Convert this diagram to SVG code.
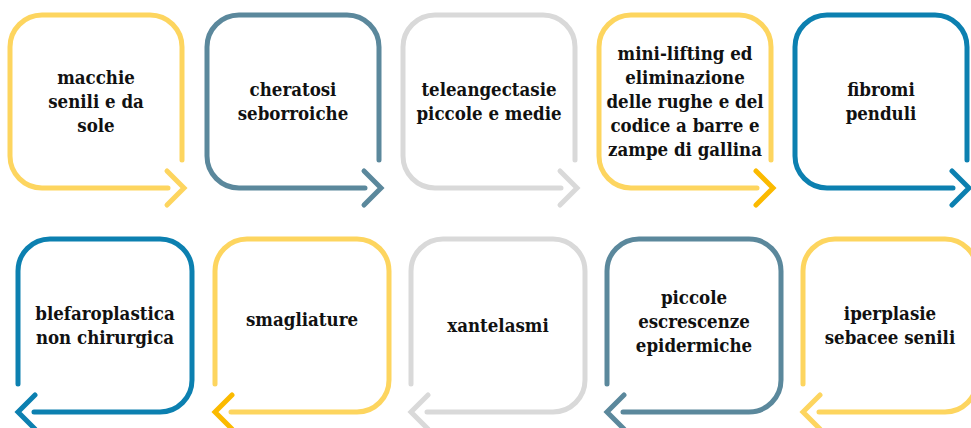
<svg xmlns="http://www.w3.org/2000/svg" width="971" height="428" viewBox="0 0 971 428">
<style>
.box{fill:none;stroke-width:5;stroke-linecap:round;stroke-linejoin:round}
.chev{fill:none;stroke-width:5;stroke-linecap:round;stroke-linejoin:miter}
.y{stroke:#FDD55F}.yd{stroke:#FBBA00}.s{stroke:#5B889C}.g{stroke:#D9D9D9}.b{stroke:#0C80B0}
text{font-family:"DejaVu Serif Condensed","DejaVu Serif",serif;font-stretch:condensed;font-weight:bold;font-size:18.5px;fill:#111;text-anchor:middle}
</style>
<rect width="971" height="428" fill="#fff"/>
<g id="n1">
<path class="box y" d="M182,160 V47 A32 32 0 0 0 150,15 H42 A32 32 0 0 0 10,47 V156 A32 32 0 0 0 42,188 H168"/>
<text x="96" y="84">macchie</text><text x="96" y="108">senili e da</text><text x="96" y="132">sole</text>
</g>
<g id="n2">
<path class="box s" d="M379,160 V47 A32 32 0 0 0 347,15 H239 A32 32 0 0 0 207,47 V156 A32 32 0 0 0 239,188 H365"/>
<text x="293" y="96">cheratosi</text><text x="293" y="120">seborroiche</text>
</g>
<g id="n3">
<path class="box g" d="M575,160 V47 A32 32 0 0 0 543,15 H435 A32 32 0 0 0 403,47 V156 A32 32 0 0 0 435,188 H561"/>
<text x="489" y="96">teleangectasie</text><text x="489" y="120">piccole e medie</text>
</g>
<g id="n4">
<path class="box y" d="M771,160 V47 A32 32 0 0 0 739,15 H631 A32 32 0 0 0 599,47 V156 A32 32 0 0 0 631,188 H757"/>
<text x="685" y="60">mini-lifting ed</text><text x="685" y="84">eliminazione</text><text x="685" y="108">delle rughe e del</text><text x="685" y="132">codice a barre e</text><text x="685" y="156">zampe di gallina</text>
</g>
<g id="n5">
<path class="box b" d="M967,160 V47 A32 32 0 0 0 935,15 H827 A32 32 0 0 0 795,47 V156 A32 32 0 0 0 827,188 H953"/>
<text x="881" y="96">fibromi</text><text x="881" y="120">penduli</text>
</g>
<g id="n6">
<path class="box b" d="M18,384 V271 A32 32 0 0 1 50,239 H160 A32 32 0 0 1 192,271 V380 A32 32 0 0 1 160,412 H34"/>
<text x="105" y="320">blefaroplastica</text><text x="105" y="344">non chirurgica</text>
</g>
<g id="n7">
<path class="box y" d="M215,384 V271 A32 32 0 0 1 247,239 H357 A32 32 0 0 1 389,271 V380 A32 32 0 0 1 357,412 H231"/>
<text x="302" y="326">smagliature</text>
</g>
<g id="n8">
<path class="box g" d="M411,384 V271 A32 32 0 0 1 443,239 H553 A32 32 0 0 1 585,271 V380 A32 32 0 0 1 553,412 H427"/>
<text x="498" y="332">xantelasmi</text>
</g>
<g id="n9">
<path class="box s" d="M607,384 V271 A32 32 0 0 1 639,239 H749 A32 32 0 0 1 781,271 V380 A32 32 0 0 1 749,412 H623"/>
<text x="694" y="304">piccole</text><text x="694" y="328">escrescenze</text><text x="694" y="352">epidermiche</text>
</g>
<g id="n10">
<path class="box y" d="M803,384 V271 A32 32 0 0 1 835,239 H945 A32 32 0 0 1 977,271 V380 A32 32 0 0 1 945,412 H819"/>
<text x="890" y="320">iperplasie</text><text x="890" y="344">sebacee senili</text>
</g>
<g id="connectors">
<path class="chev y" d="M167,171 L184,188 L167,205"/>
<path class="chev s" d="M364,171 L381,188 L364,205"/>
<path class="chev g" d="M560,171 L577,188 L560,205"/>
<path class="chev yd" d="M756,171 L773,188 L756,205"/>
<path class="chev b" d="M952,171 L969,188 L952,205"/>
<path class="chev b" d="M35,395 L18,412 L35,429"/>
<path class="chev yd" d="M232,395 L215,412 L232,429"/>
<path class="chev g" d="M428,395 L411,412 L428,429"/>
<path class="chev s" d="M624,395 L607,412 L624,429"/>
<path class="chev y" d="M820,395 L803,412 L820,429"/>
</g>
</svg>
